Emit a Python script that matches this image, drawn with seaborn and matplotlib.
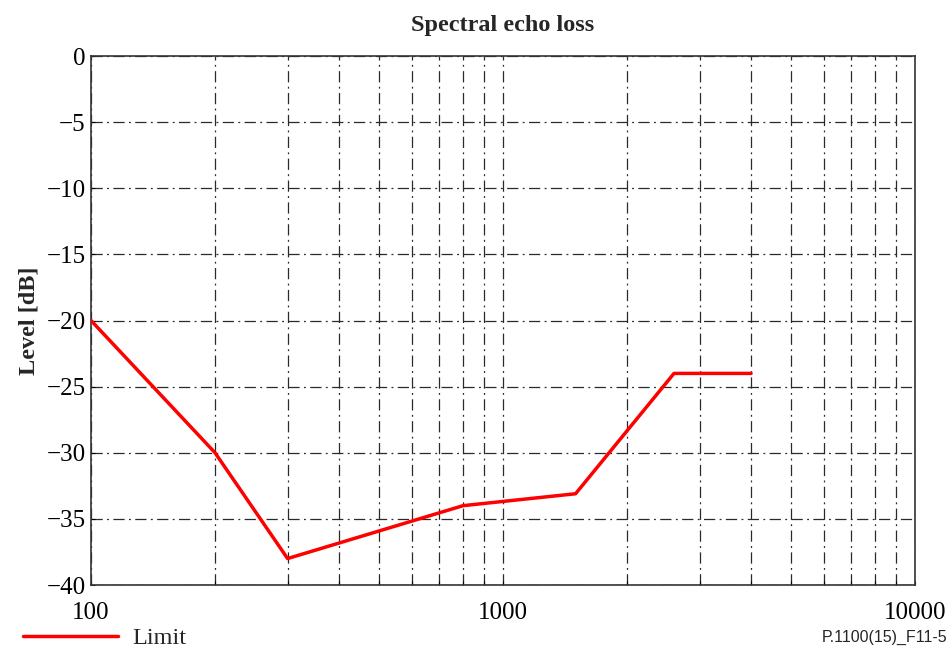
import seaborn as sns
import numpy as np
import pandas as pd
import matplotlib.pyplot as plt
from matplotlib.ticker import FixedLocator, NullFormatter, FuncFormatter

# spectral echo loss limit mask
freq = [100, 200, 300, 800, 1500, 2600, 4000]
level = [-20, -30, -38, -34, -33.1, -24, -24]
x_ticks = [100, 1000, 10000]
y_ticks = [0, -5, -10, -15, -20, -25, -30, -35, -40]
series_name = "Limit"

sns.set_theme(style="white")
plt.rcParams['font.family'] = ['Liberation Serif', 'DejaVu Serif']
plt.rcParams['axes.unicode_minus'] = True

df = pd.DataFrame({"freq": freq, "level": level, "series": series_name})

fig = plt.figure(figsize=(9.49, 6.5), dpi=100)
ax = fig.add_axes([0.0959, 0.1, 0.8683, 0.8138])

sns.lineplot(data=df, x="freq", y="level", hue="series", palette=["#ff0000"],
             linewidth=2.5, ax=ax, legend=False, zorder=3)

ax.set_xscale("log")
ax.set_xlim(100, 10000)
ax.set_ylim(-40, 0)

minor = [m * d for d in (100, 1000) for m in range(2, 10)]
ax.xaxis.set_major_locator(FixedLocator(x_ticks))
ax.xaxis.set_minor_locator(FixedLocator(minor))
ax.xaxis.set_minor_formatter(NullFormatter())
ax.xaxis.set_major_formatter(FuncFormatter(lambda v, p: f"{int(v)}"))
ax.yaxis.set_major_locator(FixedLocator(y_ticks))
ax.yaxis.set_major_formatter(FuncFormatter(lambda v, p: f"{int(v)}".replace("-", "\u2212")))

grid_kw = dict(color="#2a2a2a", linestyle=(0, (9, 3.5, 1.5, 3.5)), linewidth=0.9)
ax.grid(True, which="major", axis="both", **grid_kw)
ax.grid(True, which="minor", axis="x", **grid_kw)

ax.tick_params(axis="both", which="both", direction="in", labelsize=18,
               colors="black", length=3, width=0.8, bottom=True, left=True)
ax.tick_params(axis="x", pad=12)
ax.tick_params(axis="y", pad=4)
for s in ax.spines.values():
    s.set_color("#333333")
    s.set_linewidth(1.2)

ax.set_xlabel("")
ax.set_ylabel("Level [dB]", fontsize=17.5, fontweight="bold", labelpad=5)
ax.set_title("Spectral echo loss", fontsize=17.5, fontweight="bold", pad=18)

# legend under the plot
fig.legend(handles=[plt.Line2D([], [], color="#ff0000", linewidth=2.5)],
           labels=[series_name], loc="center left", bbox_to_anchor=(23 / 949, 0.018),
           frameon=False, fontsize=17.5, handlelength=3.9, handletextpad=0.6,
           borderpad=0, borderaxespad=0)
fig.text(0.998, 0.02, "P.1100(15)_F11-5", ha="right", va="center",
         fontsize=11.5, family=["Liberation Sans", "DejaVu Sans"])

plt.savefig("out.png", dpi=100)
